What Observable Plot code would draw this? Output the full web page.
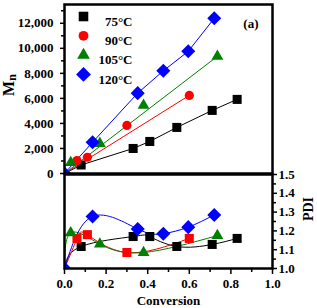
<!DOCTYPE html>
<html>
<head>
<meta charset="utf-8">
<script src="https://cdn.jsdelivr.net/npm/d3@7"></script>
<script src="https://cdn.jsdelivr.net/npm/@observablehq/plot@0.6"></script>
<style>
  body { margin: 0; background: #fff; }
  #chart { position: relative; width: 317px; height: 308px; font-family: "Liberation Serif", "Times New Roman", serif; font-weight: bold; }
  #chart svg { position: absolute; left: 0; font-family: "Liberation Serif", "Times New Roman", serif; font-weight: bold; overflow: visible; }
</style>
</head>
<body>
<div id="chart"></div>
<script>
// ---- data ----
const seriesNames = ["75°C", "90°C", "105°C", "120°C"];

const conv75  = [0.08, 0.33, 0.41, 0.54, 0.71, 0.83];
const mn75    = [680, 2000, 2560, 3680, 5040, 5920];
const pdi75   = [1.117, 1.17, 1.17, 1.117, 1.128, 1.16];

const conv90  = [0.06, 0.11, 0.30, 0.60];
const mn90    = [1040, 1300, 3840, 6240];
const pdi90   = [1.16, 1.18, 1.085, 1.16];

const conv105 = [0.03, 0.17, 0.38, 0.735];
const mn105   = [880, 2400, 5440, 9360];
const pdi105  = [1.19, 1.13, 1.085, 1.175];

const conv120 = [0.135, 0.352, 0.475, 0.595, 0.72];
const mn120   = [2500, 6420, 8200, 9760, 12400];
const pdi120  = [1.277, 1.21, 1.185, 1.22, 1.285];

const mnTicks    = [0, 2000, 4000, 6000, 8000, 10000, 12000];
const mnMinor    = [1000, 3000, 5000, 7000, 9000, 11000, 13000];
const convTicks  = [0, 0.2, 0.4, 0.6, 0.8, 1.0];
const convMinor  = [0.1, 0.3, 0.5, 0.7, 0.9];
const pdiTicks   = [1.0, 1.1, 1.2, 1.3, 1.4, 1.5];
const pdiMinor   = [1.05, 1.15, 1.25, 1.35, 1.45];

// ---- styling ----
const diamond = {
  draw(context, size) {
    const h = Math.sqrt(size / 2);
    context.moveTo(0, -h); context.lineTo(h, 0); context.lineTo(0, h); context.lineTo(-h, 0); context.closePath();
  }
};
const colors = ["#000000", "#ff0000", "#008000", "#0000ff"];
const mnSymbols = ["square", "circle", "triangle", diamond];
const pdiSymbols = ["square", "square", "triangle", diamond];
const radii = {square: 5.1, circle: 4.6, triangle: 4.4};
const rOf = s => (typeof s === "string" ? radii[s] : 5.6);
// Mn lines: polylines for 75 and 120, straight lines from origin for 90 and 105
const straight = [false, true, true, false];

const convs = [conv75, conv90, conv105, conv120];
const mns = [mn75, mn90, mn105, mn120];
const pdis = [pdi75, pdi90, pdi105, pdi120];

const series = seriesNames.map((name, i) => ({
  name, color: colors[i],
  mn: convs[i].map((c, j) => ({x: c, y: mns[i][j]})),
  pdi: convs[i].map((c, j) => ({x: c, y: pdis[i][j]}))
}));

const font = {fontSize: 13, fontWeight: "bold", fontFamily: "Liberation Serif"};

// ---- top panel: Mn ----
const topMarks = [];
series.forEach((s, i) => {
  const pts = straight[i] ? [{x: 0, y: 0}, s.mn[s.mn.length - 1]] : [{x: 0, y: 0}, ...s.mn];
  topMarks.push(Plot.line(pts, {x: "x", y: "y", stroke: s.color, strokeWidth: 1}));
});
series.forEach((s, i) => {
  topMarks.push(Plot.dot(s.mn, {x: "x", y: "y", fill: s.color, symbol: mnSymbols[i], r: rOf(mnSymbols[i]), stroke: "none"}));
});
topMarks.push(Plot.dot([{x: 0, y: 0}], {x: "x", y: "y", fill: colors[3], symbol: diamond, r: 5.6, clip: true}));
series.forEach((s, i) => {
  topMarks.push(Plot.dot([s.name], {frameAnchor: "top-left", dx: 19, dy: 12 + i * 19.3, fill: s.color, symbol: mnSymbols[i], r: rOf(mnSymbols[i]) + 0.3}));
  topMarks.push(Plot.text([s.name], {text: d => d, frameAnchor: "top-left", dx: 68, dy: 12 + i * 19.3, textAnchor: "end", fill: "black", ...font}));
});
topMarks.push(Plot.text(["(a)"], {text: d => d, frameAnchor: "top-right", dx: -14, dy: 14, fill: "black", ...font}));
topMarks.push(Plot.axisY({ticks: mnTicks, tickFormat: d3.format(","), tickSize: 4, tickPadding: 7, label: null, strokeWidth: 1.5, ...font}));
topMarks.push(Plot.axisY({ticks: mnMinor.filter(v => v <= 13500), tickFormat: () => "", tickSize: 3, label: null, strokeWidth: 1.5}));
topMarks.push(Plot.frame({stroke: "black", strokeWidth: 2.5}));

const topPlot = Plot.plot({
  width: 317, height: 174,
  marginLeft: 64, marginRight: 45, marginTop: 4, marginBottom: 1,
  x: {domain: [0, 1], axis: null},
  y: {domain: [0, 13500], axis: null},
  style: {fontFamily: "Liberation Serif", fontWeight: "bold", background: "transparent"},
  marks: topMarks
});
topPlot.style.top = "0px";

// ---- bottom panel: PDI ----
const botMarks = [];
series.forEach((s, i) => {
  botMarks.push(Plot.line([{x: 0, y: 1.0}, ...s.pdi], {x: "x", y: "y", stroke: s.color, strokeWidth: 1, curve: "natural"}));
});
series.forEach((s, i) => {
  botMarks.push(Plot.dot(s.pdi, {x: "x", y: "y", fill: s.color, symbol: pdiSymbols[i], r: rOf(pdiSymbols[i]), stroke: "none"}));
});
botMarks.push(Plot.dot([{x: 0, y: 1.0}], {x: "x", y: "y", fill: colors[3], symbol: diamond, r: 5.6, clip: true}));
botMarks.push(Plot.axisX({ticks: convTicks, tickFormat: d3.format(".1f"), tickSize: 6, tickPadding: 4, label: null, strokeWidth: 1.5, ...font}));
botMarks.push(Plot.axisX({ticks: convMinor, tickFormat: () => "", tickSize: 4, label: null, strokeWidth: 1.5}));
botMarks.push(Plot.axisY({anchor: "right", ticks: pdiTicks, tickFormat: d3.format(".1f"), tickSize: 4, tickPadding: 2, label: null, strokeWidth: 1.5, ...font}));
botMarks.push(Plot.axisY({anchor: "right", ticks: pdiMinor, tickFormat: () => "", tickSize: 3, label: null, strokeWidth: 1.5}));
botMarks.push(Plot.text(["Conversion"], {text: d => d, frameAnchor: "bottom", dy: 32, lineAnchor: "middle", fill: "black", ...font}));
botMarks.push(Plot.frame({stroke: "black", strokeWidth: 2.5}));

const botPlot = Plot.plot({
  width: 317, height: 135,
  marginLeft: 64, marginRight: 45, marginTop: 1, marginBottom: 40,
  x: {domain: [0, 1], axis: null},
  y: {domain: [1.0, 1.5], axis: null},
  style: {fontFamily: "Liberation Serif", fontWeight: "bold", background: "transparent"},
  marks: botMarks
});
botPlot.style.top = "173px";

const chart = document.getElementById("chart");
chart.appendChild(topPlot);
chart.appendChild(botPlot);

const t = d3.select(topPlot).append("text")
  .attr("transform", "translate(14,85) rotate(-90)")
  .attr("text-anchor", "middle")
  .attr("font-family", "Liberation Serif").attr("font-weight", "bold").attr("fill", "black");
t.append("tspan").attr("font-size", 16).text("M");
t.append("tspan").attr("font-size", 12).attr("dy", 2).text("n");

d3.select(botPlot).append("text")
  .attr("transform", "translate(313,36) rotate(-90)")
  .attr("text-anchor", "middle")
  .attr("font-family", "Liberation Serif").attr("font-weight", "bold").attr("font-size", 14).attr("fill", "black")
  .text("PDI");
</script>
</body>
</html>
